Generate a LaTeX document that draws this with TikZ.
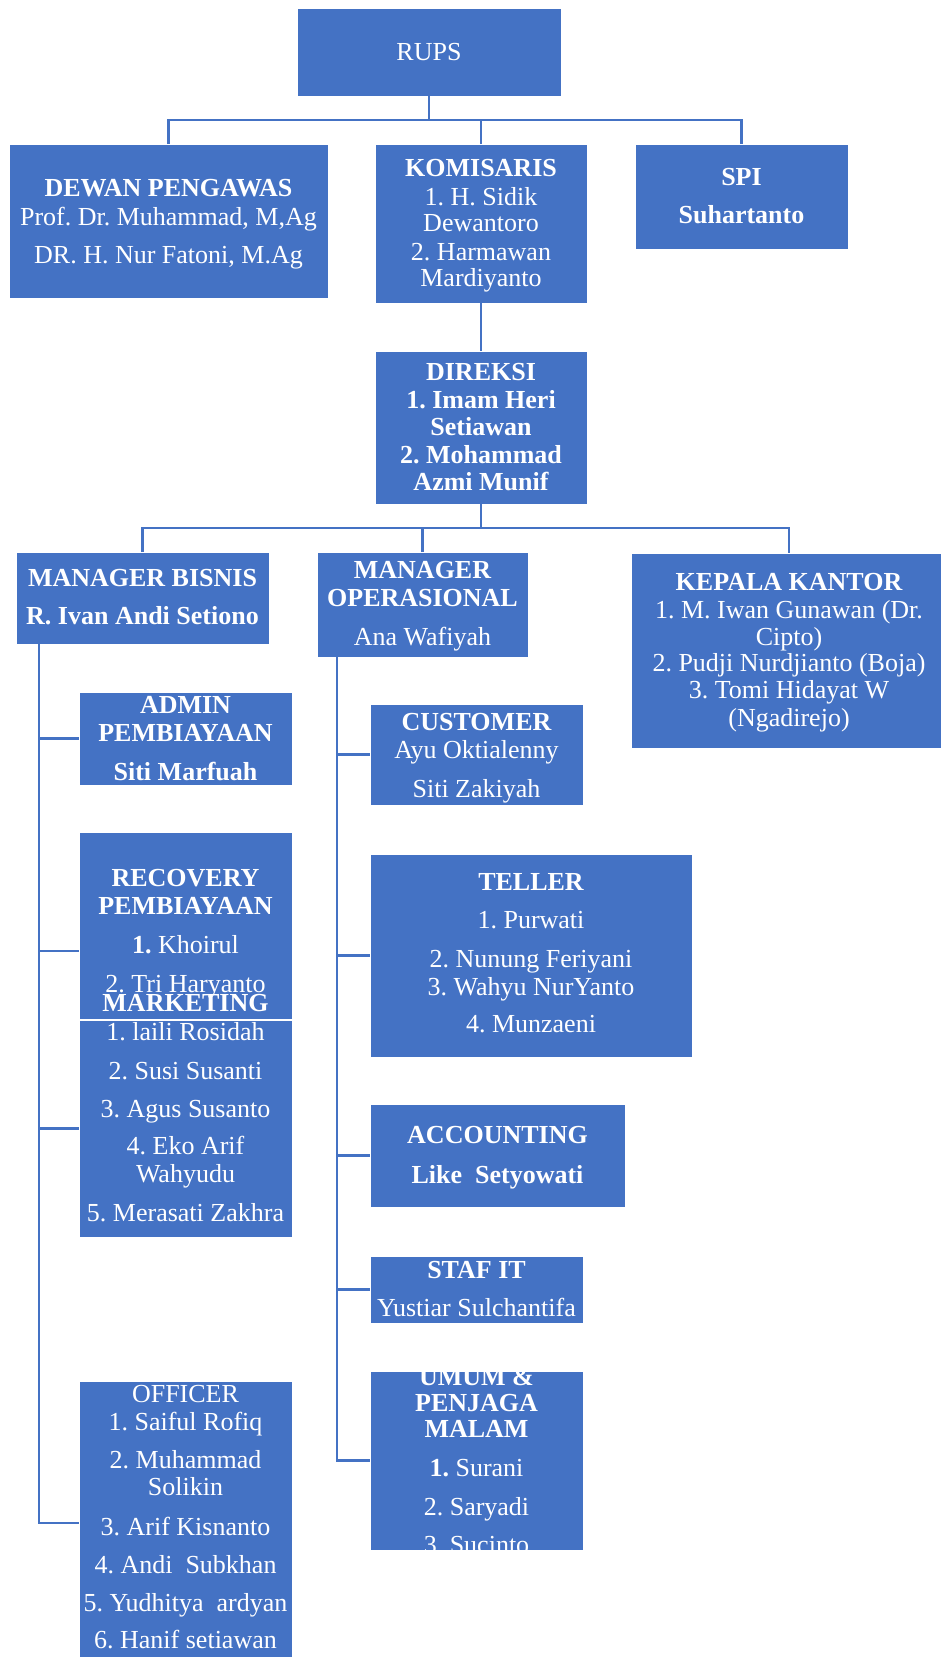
\documentclass[tikz,border=0pt]{standalone}
\usepackage{fontspec}
\setmainfont{Liberation Serif}
\frenchspacing
\definecolor{obl}{HTML}{4472C4}
\definecolor{lnc}{HTML}{4472C4}
\newcounter{tnc}
\newcommand\bx[5]{\node[box,anchor=north west,minimum width={(#4-#2)*1pt},minimum height={(#5-#3)*1pt}] (#1) at (#2,#3) {};}
\newcommand\ltxt[3]{\stepcounter{tnc}\node[txt] (t\arabic{tnc}) at (#1.center |- 0,#2) {#3};}
\newcommand\btxt[3]{\stepcounter{tnc}\node[bd] (t\arabic{tnc}) at (#1.center |- 0,#2) {#3};}
\begin{document}
\begin{tikzpicture}[x=1pt,y=-1pt,
  box/.style={fill=obl,draw=white,line width=0.8pt,inner sep=0pt,outer sep=0pt},
  txt/.style={text=white,font=\fontsize{26}{28}\selectfont,inner sep=0pt,text height=17.2pt,text depth=0pt,anchor=center},
  bd/.style={txt,font=\fontsize{26}{28}\selectfont\bfseries},
  conn/.style={draw=lnc,line width=2.5pt}]
\useasboundingbox[fill=white] (0,0) rectangle (941,1657);

% boxes
\bx{rups}{297}{8}{561}{96}
\bx{dewan}{9}{144}{328}{298}
\bx{komis}{375}{144}{587}{303}
\bx{spi}{635}{144}{848}{249}
\bx{direksi}{375}{351}{587}{504}
\bx{mbis}{16}{552}{269}{644}
\bx{mops}{317}{552}{528}{657}
\bx{kepala}{631}{553}{947}{748}
\bx{admin}{79}{692}{292}{785}
\bx{customer}{370}{704}{583}{805}
\bx{teller}{370}{854}{692}{1057}
\bx{accounting}{370}{1104}{625}{1207}
\bx{stafit}{370}{1256}{583}{1323}
\bx{umum}{370}{1371}{583}{1550}

% connectors
\coordinate (b1) at (429,120);
\draw[conn] (rups.south) -- (b1);
\draw[conn] (dewan.north) |- (b1) -| (spi.north);
\draw[conn] (komis.north) -- (komis.north |- b1);
\draw[conn] (komis.south) -- (direksi.north);
\coordinate (b2) at (481,528);
\draw[conn] (direksi.south) -- (b2);
\draw[conn] (mbis.north) |- (b2) -| (kepala.north);
\draw[conn] (mops.north) -- (mops.north |- b2);

\coordinate (vo) at (337,657);
\draw[conn] (vo) |- (umum.west);
\draw[conn] (vo |- customer.west) -- (customer.west);
\draw[conn] (vo |- teller.west) -- (teller.west);
\draw[conn] (vo |- accounting.west) -- (accounting.west);
\draw[conn] (vo |- stafit.west) -- (stafit.west);

% texts top
\ltxt{rups}{52}{RUPS}
\btxt{dewan}{188}{DEWAN PENGAWAS}
\ltxt{dewan}{217}{Prof. Dr. Muhammad, M,Ag}
\ltxt{dewan}{255}{DR. H. Nur Fatoni, M.Ag}
\btxt{komis}{168}{KOMISARIS}
\ltxt{komis}{197}{1. H. Sidik}
\ltxt{komis}{223}{Dewantoro}
\ltxt{komis}{252}{2. Harmawan}
\ltxt{komis}{278}{Mardiyanto}
\btxt{spi}{177}{SPI}
\btxt{spi}{215}{Suhartanto}
\btxt{direksi}{372}{DIREKSI}
\btxt{direksi}{400}{1. Imam Heri}
\btxt{direksi}{427}{Setiawan}
\btxt{direksi}{455}{2. Mohammad}
\btxt{direksi}{482}{Azmi Munif}
\btxt{mbis}{578}{MANAGER BISNIS}
\btxt{mbis}{616}{R. Ivan Andi Setiono}
\btxt{mops}{570}{MANAGER}
\btxt{mops}{598}{OPERASIONAL}
\ltxt{mops}{637}{Ana Wafiyah}
\btxt{kepala}{582}{KEPALA KANTOR}
\ltxt{kepala}{610}{1. M. Iwan Gunawan (Dr.}
\ltxt{kepala}{637}{Cipto)}
\ltxt{kepala}{663}{2. Pudji Nurdjianto (Boja)}
\ltxt{kepala}{690}{3. Tomi Hidayat W}
\ltxt{kepala}{718}{(Ngadirejo)}

% left column
\btxt{admin}{705}{ADMIN}
\btxt{admin}{733}{PEMBIAYAAN}
\btxt{admin}{772}{Siti Marfuah}
\bx{recovery}{79}{832}{292}{1019}
\btxt{recovery}{878}{RECOVERY}
\btxt{recovery}{906}{PEMBIAYAAN}
\ltxt{recovery}{945}{\textbf{1.} Khoirul}
\ltxt{recovery}{984}{2. Tri Haryanto}
\bx{marketing}{79}{1020}{292}{1237}
\btxt{marketing}{1003}{MARKETING}
\ltxt{marketing}{1032}{1. laili Rosidah}
\ltxt{marketing}{1071}{2. Susi Susanti}
\ltxt{marketing}{1109}{3. Agus Susanto}
\ltxt{marketing}{1146}{4. Eko Arif}
\ltxt{marketing}{1174}{Wahyudu}
\ltxt{marketing}{1213}{5. Merasati Zakhra}
\bx{officer}{79}{1381}{292}{1665}
\ltxt{officer}{1394}{OFFICER}
\ltxt{officer}{1422}{1. Saiful Rofiq}
\ltxt{officer}{1460}{2. Muhammad}
\ltxt{officer}{1487}{Solikin}
\ltxt{officer}{1527}{3. Arif Kisnanto}
\ltxt{officer}{1565}{4. Andi~ Subkhan}
\ltxt{officer}{1603}{5. Yudhitya~ ardyan}
\ltxt{officer}{1640}{6. Hanif setiawan}

\coordinate (vb) at (39,644);
\draw[conn] (vb) |- (officer.west);
\draw[conn] (vb |- admin.west) -- (admin.west);
\draw[conn] (vb |- 0,951) -- (recovery.west |- 0,951);
\draw[conn] (vb |- marketing.west) -- (marketing.west);

% right column texts
\btxt{customer}{722}{CUSTOMER}
\ltxt{customer}{750}{Ayu Oktialenny}
\ltxt{customer}{789}{Siti Zakiyah}
\btxt{teller}{882}{TELLER}
\ltxt{teller}{920}{1. Purwati}
\ltxt{teller}{959}{2. Nunung Feriyani}
\ltxt{teller}{987}{3. Wahyu NurYanto}
\ltxt{teller}{1024}{4. Munzaeni}
\btxt{accounting}{1135}{ACCOUNTING}
\btxt{accounting}{1175}{Like~~Setyowati}
\btxt{stafit}{1270}{STAF IT}
\ltxt{stafit}{1308}{Yustiar Sulchantifa}
\btxt{umum}{1377}{UMUM \&}
\btxt{umum}{1403}{PENJAGA}
\btxt{umum}{1429}{MALAM}
\ltxt{umum}{1468}{\textbf{1.} Surani}
\ltxt{umum}{1507}{2. Saryadi}
\ltxt{umum}{1545}{3. Sucinto}
\end{tikzpicture}
\end{document}
